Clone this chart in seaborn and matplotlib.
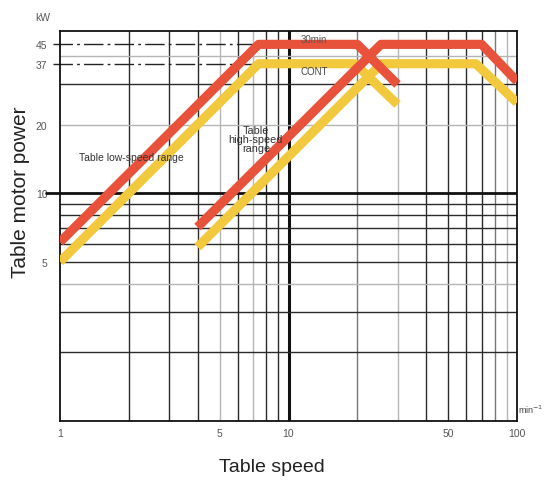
import matplotlib
matplotlib.use("Agg")
import matplotlib.pyplot as plt
import seaborn as sns
import numpy as np

# Table motor power vs. table speed (log-log)
low_speed = [1, 7.4, 20, 30]
low_30min = [6.1, 45, 45, 30]
low_cont_speed = [1, 7.4, 19.5, 30]
low_cont = [5.0, 37, 37, 24.5]

high_speed = [4, 25.4, 70, 100]
high_30min = [7.1, 45, 45, 31]
high_cont_speed = [4, 25.5, 66, 100]
high_cont = [5.8, 37, 37, 25]

rated_30min = 45
rated_cont = 37

x_ticks = [1, 5, 10, 50, 100]
y_ticks = [5, 10, 20, 37, 45]

red = "#E8513A"
yellow = "#F2C83C"

sns.set_style("white")
plt.rcParams["font.family"] = ["Liberation Sans", "DejaVu Sans"]

fig = plt.figure(figsize=(5.44, 4.81), dpi=100)
ax = fig.add_axes([60 / 544, 1 - 422 / 481, 457 / 544, 390 / 481])
ax.set_xscale("log")
ax.set_yscale("log")
ax.set_xlim(1, 100)
ax.set_ylim(1, 51.5)

# grid lines with varying weights
dark, mid, light = "#2a2a2a", "#777777", "#b5b5b5"
vgrid = {2: dark, 3: dark, 4: dark, 5: light, 6: dark, 7: light, 8: dark, 9: dark,
         20: mid, 30: light, 40: dark, 50: dark, 60: dark, 70: dark, 80: mid, 90: light}
for v, c in vgrid.items():
    ax.axvline(v, color=c, lw=1.0, zorder=1)
ax.axvline(10, color="#111111", lw=2.2, zorder=1)
hgrid = {2: dark, 3: dark, 4: light, 5: dark, 6: dark, 7: dark, 8: dark, 9: dark,
         20: light, 30: dark, 40: light}
for v, c in hgrid.items():
    ax.axhline(v, color=c, lw=1.0, zorder=1)
ax.axhline(10, color="#111111", lw=2.0, zorder=1)
ax.plot([0.87, 1], [10, 10], color="#111111", lw=2.0, clip_on=False)

# rated power reference lines
for val, xend in [(rated_30min, low_speed[1]), (rated_cont, low_cont_speed[1])]:
    ax.plot([0.93, xend], [val, val], color="#222222", lw=1.0,
            linestyle=(0, (14, 3, 2, 3)), clip_on=False, zorder=2)

kw = dict(lw=6.6, sort=False, legend=False, ax=ax,
          solid_joinstyle="round", solid_capstyle="butt", zorder=3)
sns.lineplot(x=low_cont_speed, y=low_cont, color=yellow, **kw)
sns.lineplot(x=high_cont_speed, y=high_cont, color=yellow, **kw)
sns.lineplot(x=low_speed, y=low_30min, color=red, **kw)
sns.lineplot(x=high_speed, y=high_30min, color=red, **kw)

for s in ax.spines.values():
    s.set_visible(True)
    s.set_color("#111111")
    s.set_linewidth(1.3)

ax.set_xticks(x_ticks)
ax.set_xticklabels([str(v) for v in x_ticks])
ax.set_yticks(y_ticks)
ax.set_yticklabels([str(v) for v in y_ticks])
ax.minorticks_off()
ax.tick_params(axis="both", length=0, labelsize=7.5, labelcolor="#555555")
ax.tick_params(axis="y", pad=9)
ax.tick_params(axis="x", pad=5)

ax.text(2.05, 14.4, "Table low-speed range", fontsize=7.5, color="#333333",
        ha="center", va="center", zorder=4)
ax.text(7.2, 17.3, "Table\nhigh-speed\nrange", fontsize=7.8, color="#333333",
        ha="center", va="center", linespacing=0.85, zorder=4)
ax.text(12.9, 47.5, "30min", fontsize=7, color="#555555", ha="center", va="center", zorder=4)
ax.text(12.9, 34.5, "CONT", fontsize=7, color="#444444", ha="center", va="center", zorder=4)

fig.text(43 / 544, 1 - 18 / 481, "kW", fontsize=7.5, color="#555555", ha="center", va="center")
fig.text(518 / 544, 1 - 410 / 481, "min$^{-1}$", fontsize=6.5, color="#444444", ha="left", va="center")

ax.set_xlabel("Table speed", fontsize=14, color="#222222")
ax.set_ylabel("Table motor power", fontsize=15, color="#222222")
ax.xaxis.set_label_coords((272 - 60) / 457, (422 - 467) / 390)
ax.yaxis.set_label_coords((21 - 60) / 457, (422 - 192) / 390)
ax.xaxis.label.set_va("center")
ax.yaxis.label.set_va("center")

fig.savefig("out.png", dpi=100, facecolor="white")
